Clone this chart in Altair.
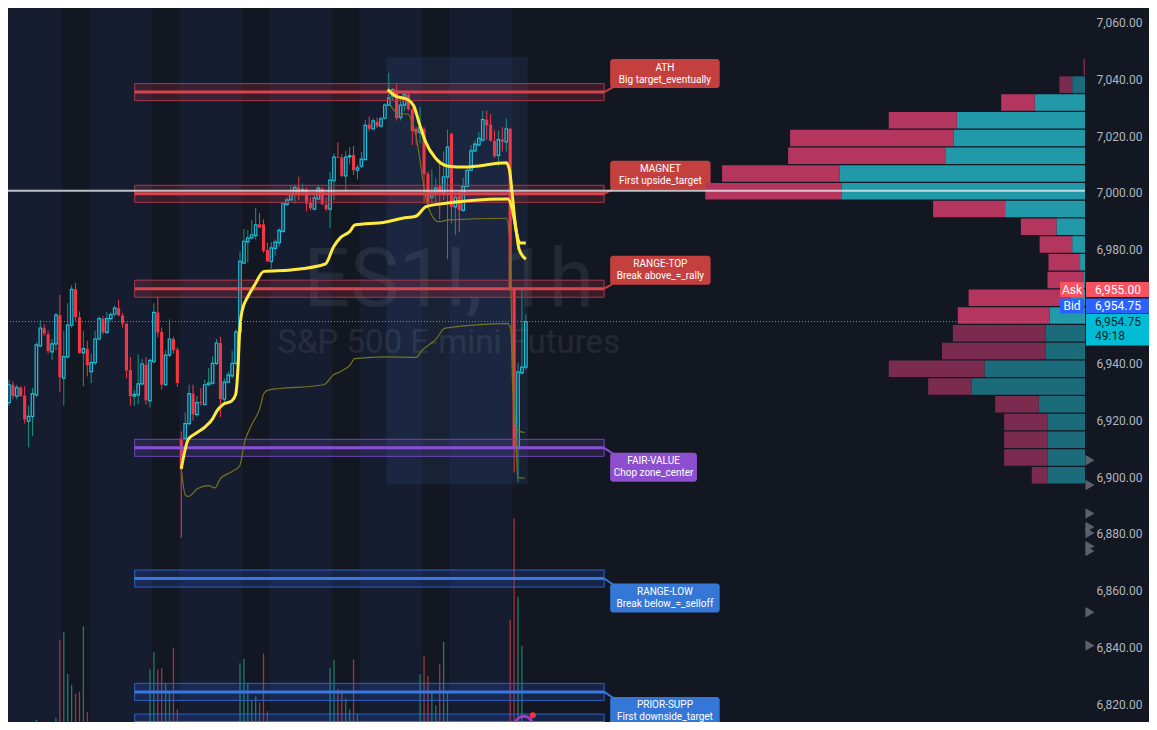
import altair as alt
import numpy as np
import pandas as pd

# ---------------- data ----------------
opens = [6926.2, 6932.5, 6928.5, 6931.5, 6928.7, 6919.7, 6921.4, 6928.9, 6946.2, 6952.4,
         6950.3, 6944.1, 6946.9, 6957.0, 6934.8, 6942.3, 6953.5, 6966.1, 6956.3, 6943.7,
         6945.2, 6937.1, 6940.3, 6948.6, 6955.8, 6950.9, 6955.8, 6957.4, 6959.5, 6956.9,
         6954.0, 6937.7, 6928.5, 6928.9, 6932.8, 6939.6, 6926.8, 6940.6, 6958.0, 6951.1,
         6932.5, 6942.9, 6948.6, 6944.9, 6913.6, 6913.6, 6918.8, 6929.4, 6922.0, 6926.4,
         6925.6, 6932.5, 6933.1, 6940.0, 6947.2, 6927.4, 6933.4, 6935.6, 6940.0, 6951.1,
         6975.3, 6982.8, 6984.2, 6985.0, 6989.0, 6989.0, 6979.9, 6975.9, 6980.5, 6982.5,
         6986.5, 6996.0, 6997.6, 6999.7, 7002.0, 7000.8, 7001.1, 6996.5, 6994.3, 6997.9,
         7001.5, 6996.0, 6994.3, 7004.3, 7012.6, 7012.5, 7006.0, 7012.7, 7013.4, 7008.0,
         7009.4, 7011.7, 7024.1, 7022.6, 7025.0, 7023.5, 7026.3, 7030.9, 7034.1, 7036.1,
         7026.6, 7030.9, 7034.6, 7029.5, 7022.6, 7021.2, 7022.6, 7006.8, 6998.5, 6999.9,
         7002.5, 7000.2, 7005.6, 7020.9, 6995.1, 6999.1, 6993.9, 7002.3, 7008.0, 7014.8,
         7016.9, 7018.6, 7025.8, 7024.1, 7018.3, 7013.2, 7018.8, 7018.0, 7022.6, 6965.9,
         6910.4, 6936.7, 6938.7]
highs = [6934.2, 6933.7, 6932.5, 6932.0, 6932.0, 6925.1, 6931.4, 6947.4, 6955.2, 6953.8,
         6951.5, 6948.6, 6957.8, 6964.1, 6951.5, 6961.2, 6967.5, 6968.3, 6958.3, 6951.5,
         6948.0, 6943.4, 6951.5, 6956.6, 6956.6, 6958.0, 6958.0, 6960.3, 6962.4, 6957.8,
         6954.3, 6942.3, 6930.8, 6943.2, 6941.7, 6942.3, 6941.7, 6961.2, 6963.5, 6952.6,
         6944.6, 6955.5, 6949.4, 6945.7, 6916.1, 6922.8, 6932.5, 6932.5, 6928.5, 6931.4,
         6934.2, 6938.3, 6942.5, 6948.6, 6949.4, 6934.8, 6937.1, 6944.6, 6952.0, 6979.4,
         6987.3, 6987.0, 6990.5, 6994.8, 6993.0, 6990.7, 6982.5, 6982.7, 6983.6, 6987.6,
         6996.8, 6998.5, 7002.8, 7002.9, 7005.7, 7003.3, 7002.0, 6998.5, 6999.9, 7002.8,
         7002.0, 6998.5, 7007.3, 7014.0, 7017.8, 7013.7, 7014.8, 7016.1, 7016.5, 7010.0,
         7014.4, 7025.8, 7026.9, 7026.3, 7026.6, 7026.9, 7031.6, 7042.3, 7036.9, 7038.1,
         7034.1, 7035.2, 7035.2, 7030.1, 7023.2, 7030.3, 7023.2, 7007.7, 7008.3, 7005.2,
         7011.7, 7014.6, 7022.3, 7021.2, 7000.2, 7000.8, 7005.4, 7008.5, 7016.9, 7018.6,
         7021.5, 7028.9, 7028.9, 7027.8, 7022.0, 7022.0, 7023.2, 7026.3, 7023.0, 6966.2,
         6940.1, 6966.9, 6957.3]
lows = [6925.1, 6927.4, 6927.4, 6928.2, 6918.8, 6910.5, 6914.4, 6928.2, 6945.7, 6949.7,
        6943.4, 6941.1, 6944.6, 6929.9, 6925.1, 6941.7, 6952.6, 6954.9, 6943.4, 6932.0,
        6935.4, 6933.1, 6939.4, 6948.0, 6950.3, 6950.3, 6954.9, 6956.6, 6956.6, 6952.6,
        6934.8, 6925.1, 6925.1, 6925.6, 6932.2, 6925.6, 6924.5, 6940.0, 6949.2, 6930.8,
        6932.0, 6942.3, 6943.4, 6931.7, 6878.6, 6913.0, 6918.2, 6919.9, 6921.1, 6925.1,
        6925.1, 6932.0, 6932.5, 6939.4, 6921.1, 6926.2, 6933.1, 6934.8, 6939.4, 6950.9,
        6975.3, 6975.6, 6983.6, 6983.6, 6987.6, 6979.0, 6975.6, 6973.3, 6977.9, 6981.1,
        6985.9, 6995.4, 6997.4, 6996.2, 6997.4, 6999.1, 6993.6, 6993.9, 6993.9, 6997.4,
        6995.6, 6993.6, 6987.6, 6997.4, 7012.3, 7005.6, 7000.8, 7010.0, 7006.3, 7004.8,
        7008.8, 7011.5, 7021.7, 7022.0, 7022.8, 7022.9, 7025.8, 7030.6, 7032.4, 7025.5,
        7025.5, 7028.9, 7028.9, 7016.9, 7016.9, 7017.4, 6996.2, 6995.1, 6995.1, 6996.2,
        6990.7, 6997.4, 6976.7, 6989.3, 6985.3, 6986.1, 6993.4, 7002.0, 7007.7, 7014.4,
        7016.3, 7018.0, 7018.6, 7018.0, 7012.3, 7009.4, 7014.6, 7014.6, 6965.5, 6901.6,
        6898.1, 6936.0, 6937.7]
closes = [6932.5, 6928.5, 6931.5, 6928.5, 6920.3, 6921.4, 6929.4, 6946.5, 6952.4, 6950.5,
          6944.3, 6946.9, 6957.0, 6935.1, 6942.4, 6953.5, 6966.1, 6956.3, 6943.7, 6945.2,
          6939.4, 6940.3, 6948.6, 6955.8, 6950.9, 6955.8, 6957.2, 6959.5, 6956.9, 6954.0,
          6937.5, 6928.5, 6929.1, 6932.8, 6939.8, 6927.0, 6941.1, 6958.0, 6950.9, 6932.5,
          6942.9, 6948.6, 6944.6, 6933.1, 6902.7, 6918.8, 6929.4, 6922.0, 6926.2, 6926.0,
          6932.5, 6933.1, 6940.0, 6947.2, 6927.4, 6933.4, 6936.0, 6940.0, 6951.1, 6975.9,
          6983.0, 6984.2, 6985.3, 6988.8, 6987.8, 6979.6, 6975.9, 6980.7, 6982.7, 6986.8,
          6996.2, 6997.6, 6999.9, 7002.0, 6999.7, 7001.0, 6996.2, 6994.6, 6998.3, 7001.7,
          6996.0, 6994.3, 7004.5, 7012.6, 7012.4, 7006.0, 7012.6, 7013.1, 7008.0, 7008.8,
          7011.9, 7023.8, 7022.6, 7025.4, 7023.5, 7026.1, 7030.9, 7033.5, 7036.4, 7026.3,
          7030.9, 7034.6, 7029.5, 7021.7, 7021.2, 7023.2, 7006.5, 6996.2, 7000.0, 7001.7,
          7000.2, 7005.7, 7016.1, 6995.1, 6998.5, 6993.9, 7002.3, 7008.0, 7014.8, 7017.2,
          7019.2, 7025.8, 7023.8, 7018.4, 7012.9, 7018.8, 7018.0, 7022.6, 6965.9, 6910.2,
          6937.0, 6938.7, 6954.75]
volumes = [18, 15, 14, 16, 22, 20, 24, 32, 26, 18, 20, 22, 34, 114, 122, 79, 68, 59, 61, 128,
           40, 26, 22, 20, 18, 16, 15, 14, 16, 18, 24, 28, 22, 20, 24, 26, 84, 101, 84, 85,
           70, 61, 106, 43, 28, 26, 24, 22, 20, 18, 20, 18, 22, 24, 28, 20, 18, 22, 26, 90,
           95, 70, 52, 56, 50, 100, 41, 26, 22, 20, 18, 16, 15, 16, 14, 18, 20, 22, 20, 18,
           24, 26, 85, 94, 64, 63, 54, 43, 94, 39, 26, 22, 20, 18, 16, 18, 20, 28, 22, 26,
           20, 18, 22, 24, 28, 79, 98, 77, 61, 47, 89, 112, 61, 28, 24, 22, 20, 18, 16, 15,
           14, 16, 18, 20, 22, 18, 20, 26, 134, 238, 158, 108, 12]

# anchored VWAPs (thick) and their lower bands (thin): bar index / price
vwap1_bar = [44.0, 45.8, 47.6, 50.1, 52.0, 53.1, 54.7, 56.9, 57.9, 58.5, 58.9, 59.5, 61.0, 62.7,
             65.1, 72.0, 80.8, 82.9, 84.6, 87.1, 88.3, 95.9, 100.5, 103.9, 106.4, 108.9, 127.4,
             128.6, 129.5, 130.3, 132.0]
vwap1_val = [6902.9, 6913.3, 6915.3, 6917.7, 6920.5, 6923.3, 6925.6, 6926.8, 6929.1, 6938.8,
             6950.9, 6958.3, 6963.5, 6967.5, 6972.4, 6972.9, 6975.0, 6981.1, 6984.2, 6986.5,
             6988.7, 6989.7, 6991.1, 6991.8, 6995.1, 6995.9, 6997.9, 6993.9, 6987.0, 6980.1,
             6976.7]
vwap2_bar = [96.7, 98.8, 101.8, 103.4, 104.7, 106.4, 108.9, 112.3, 116.4, 127.0, 127.8, 128.6,
             129.5, 130.7, 132.0]
vwap2_val = [7036.4, 7034.1, 7032.9, 7030.6, 7024.9, 7018.0, 7012.3, 7009.4, 7009.1, 7010.6,
             7008.3, 6998.5, 6987.0, 6982.4, 6982.4]
band1_bar = [44.0, 45.1, 45.9, 48.0, 51.0, 52.6, 53.9, 56.9, 58.9, 60.2, 61.9, 64.0, 65.1, 66.1,
             80.4, 82.9, 84.6, 87.1, 88.3, 96.3, 103.9, 105.5, 108.9, 111.4, 127.4, 128.2,
             128.6, 129.5, 130.7, 131.7]
band1_val = [6902.7, 6893.5, 6893.2, 6895.8, 6897.0, 6896.2, 6899.3, 6901.9, 6903.9, 6912.5,
             6918.2, 6923.9, 6929.4, 6930.6, 6932.5, 6936.0, 6937.1, 6939.4, 6941.7, 6942.3,
             6942.1, 6944.6, 6948.3, 6952.4, 6954.0, 6951.5, 6933.2, 6917.1, 6915.9, 6915.7]
band2_bar = [97.2, 99.7, 101.8, 103.9, 106.8, 109.7, 112.3, 127.0, 127.8, 128.6, 129.5, 129.9, 131.7]
band2_val = [7031.2, 7027.8, 7027.8, 7020.3, 6996.2, 6989.9, 6990.5, 6991.1, 6984.8, 6941.1,
             6913.6, 6899.8, 6899.6]

# key levels
level_names = ["ATH", "MAGNET", "RANGE-TOP", "FAIR-VALUE", "RANGE-LOW", "PRIOR-SUPP", ""]
level_notes = ["Big target_eventually", "First upside_target", "Break above_=_rally",
               "Chop zone_center", "Break below_=_selloff", "First downside_target", ""]
level_prices = [7035.5, 6999.7, 6966.3, 6910.3, 6864.3, 6824.4, 6813.6]
level_kinds = ["res", "res", "res", "fair", "sup", "sup", "sup"]
zone_half = 3.0
zone_start_bar = 32.1
zone_end_bar = 152.0

# volume profile (6.25 pt rows)
profile_low = [7041.25, 7035, 7028.75, 7022.5, 7016.25, 7010, 7003.75, 6997.5, 6991.25, 6985,
               6978.75, 6972.5, 6966.25, 6960, 6953.75, 6947.5, 6941.25, 6935, 6928.75, 6922.5,
               6916.25, 6910, 6903.75, 6897.5]
profile_buy = [0, 13, 51, 130, 133, 141, 249, 247, 81, 29, 13, 5, 1, 15, 36, 40, 40, 102, 115,
               47, 38, 38, 38, 38]
profile_sell = [1.5, 13, 34, 69, 166, 160, 119, 138, 73, 36, 33, 32, 37, 103, 93, 94, 105, 97,
                44, 44, 44, 44, 44, 16]
profile_in_va = [False, False, True, True, True, True, True, True, True, True, True, True, True,
                 True, True, False, False, False, False, False, False, False, False, False]
profile_row = 6.25

price_ticks = [6820, 6840, 6860, 6880, 6900, 6920, 6940, 6960, 6980, 7000, 7020, 7040, 7060]
session_start = [-0.25, 20.5, 43.5, 66.5, 89.5, 112.5]
session_end = [13.5, 36.5, 59.5, 82.5, 105.5, 128.5]
range_box_bars = [96.5, 132.5]
range_box_prices = [6897.4, 7047.8]
alert_prices = [6905.9, 6897.2, 6887.2, 6882.4, 6880.3, 6875.7, 6874.0, 6852.4, 6840.7]
white_line_price = 7000.8
ask_price = 6955.00
bid_price = 6954.75
countdown = "49:18"
symbol = "ES1!, 1h"
description = "S&P 500 E-mini Futures"
watermark_bar = 112.3
watermark_prices = [6960.1, 6943.6]
alert_icon_bar = [131.5, 133.8]
alert_icon_price = [6812.8, 6816.2]

# ---------------- layout / style ----------------
W, H = 1077, 714
AXW = 64
X_DOM = [-0.25, 274.8]
Y_DOM = [6813.8, 7065.1]
ppb = W / (X_DOM[1] - X_DOM[0])
ppp = H / (Y_DOM[1] - Y_DOM[0])

BG = "#131722"
NAVY = "#161d31"
UP_BODY = "#22bfdc"
UP_WICK = "#12957d"
DOWN = "#f23645"
FONT = "Roboto"

xs = alt.Scale(domain=X_DOM, nice=False, zero=False)
ys = alt.Scale(domain=Y_DOM, nice=False, zero=False)
yax = alt.Axis(orient="right", values=price_ticks, format=",.2f", labelColor="#b2b5be",
               labelFont=FONT, labelFontSize=12, labelPadding=11, domain=False, ticks=False,
               grid=False, title=None)


def X(f):
    return alt.X(f, type="quantitative", scale=xs, axis=None)


def Y(f, ax=None):
    return alt.Y(f, type="quantitative", scale=ys, axis=ax)


def YA(f):
    return Y(f, yax)


# ---------------- tables ----------------
bars = pd.DataFrame({"i": np.arange(len(opens)), "o": opens, "h": highs, "l": lows,
                     "c": closes, "v": volumes})
bars["up"] = bars["c"] >= bars["o"]
bars["top"] = bars[["o", "c"]].max(axis=1)
bars["bot"] = bars[["o", "c"]].min(axis=1)
min_body = 1.0 / ppp
bars["btop"] = np.maximum(bars["top"], bars["bot"] + min_body)
bars["x0"] = np.where(bars["up"], bars["i"] - 0.32, bars["i"] - 0.4)
bars["x1"] = np.where(bars["up"], bars["i"] + 0.32, bars["i"] + 0.4)
bars["wick"] = np.where(bars["up"], UP_WICK, DOWN)
bars["vcol"] = np.where(bars["up"], "#1d7a6e", "#a0363f")

sess = pd.DataFrame({"s": session_start, "e": session_end})
rbox = pd.DataFrame({"x0": [range_box_bars[0]], "x1": [range_box_bars[1]],
                     "y0": [range_box_prices[0]], "y1": [range_box_prices[1]]})

FILL = {"res": "#f23645", "fair": "#7e57c2", "sup": "#2962ff"}
EDGE = {"res": "#a8394a", "fair": "#6d46b8", "sup": "#2f62bd"}
LINE = {"res": "#d9434d", "fair": "#8a50dc", "sup": "#3a78e0"}
LAB = {"res": "#c4403f", "fair": "#8d4fd0", "sup": "#3577d6"}

lv = pd.DataFrame({"name": level_names, "desc": level_notes, "c": level_prices, "kind": level_kinds})
lv["lo"] = lv["c"] - zone_half
lv["hi"] = lv["c"] + zone_half
lv["x0"] = zone_start_bar
lv["x1"] = zone_end_bar
lv["fill"] = lv["kind"].map(FILL)
lv["edge"] = lv["kind"].map(EDGE)
lv["line"] = lv["kind"].map(LINE)
lv["lab"] = lv["kind"].map(LAB)

lab = lv[lv["name"] != ""].copy()
above = (lab["kind"] == "res").to_numpy()
lab["lx0"] = zone_end_bar + 6 / ppb
lab["lw"] = (14 + 4.55 * lab["desc"].str.len()) / ppb
lab["lx1"] = lab["lx0"] + lab["lw"]
lab["lxc"] = lab["lx0"] + lab["lw"] / 2
lab["ytop"] = np.where(above, lab["c"] + 33 / ppp, lab["c"] - 5 / ppp)
lab["ybot"] = lab["ytop"] - 29 / ppp
lab["yname"] = lab["ytop"] - 8.5 / ppp
lab["ydesc"] = lab["ytop"] - 20.5 / ppp
lab["tx"] = lab["lx0"] + 3 / ppb
lab["ty"] = np.where(above, lab["ybot"] + 1 / ppp, lab["ytop"] - 1 / ppp)

thick = pd.concat([
    pd.DataFrame({"b": vwap1_bar, "p": vwap1_val, "s": "v1"}),
    pd.DataFrame({"b": vwap2_bar, "p": vwap2_val, "s": "v2"}),
])
thin = pd.concat([
    pd.DataFrame({"b": band1_bar, "p": band1_val, "s": "b1"}),
    pd.DataFrame({"b": band2_bar, "p": band2_val, "s": "b2"}),
])

prof = pd.DataFrame({"lo": profile_low, "buy": profile_buy, "sell": profile_sell, "va": profile_in_va})
prof["y0"] = prof["lo"] + 0.22
prof["y1"] = prof["lo"] + profile_row - 0.22
prof["tot"] = prof["buy"] + prof["sell"]
prof["bcol"] = np.where(prof["va"], "#2299a8", "#1c6b7a")
prof["scol"] = np.where(prof["va"], "#b4365f", "#7b2c4e")

last = closes[-1]
badges = pd.DataFrame({
    "name": ["Ask", "Bid"],
    "ptxt": [f"{ask_price:,.2f}", f"{bid_price:,.2f}"],
    "yc": [last + 32 / ppp, last + 15.5 / ppp],
    "col": ["#f7525f", "#2962ff"],
})
badges["y0"] = badges["yc"] - 7.5 / ppp
badges["y1"] = badges["yc"] + 7.5 / ppp
cur = pd.DataFrame({"y0": [last + 7.5 / ppp], "y1": [last - 24 / ppp], "p": [last],
                    "t1": [f"{last:,.2f}"], "t2": [countdown], "y2": [last - 14 / ppp]})

# ---------------- layers ----------------
sessions = alt.Chart(sess).mark_rect(color=NAVY).encode(
    x=X("s"), x2="e", y=alt.value(0), y2=alt.value(H))
box_l = alt.Chart(rbox).mark_rect(color="#3d6bb0", opacity=0.13).encode(
    x=X("x0"), x2="x1", y=Y("y0"), y2="y1")
g0 = alt.layer(sessions, box_l)

vol = alt.Chart(bars).transform_filter("datum.v > 30").mark_rule(strokeWidth=1.3).encode(
    x=X("i"),
    y=alt.Y("v:Q", scale=alt.Scale(domain=[30, 760], nice=False, zero=False), axis=None),
    y2=alt.datum(30),
    color=alt.Color("vcol:N", scale=None))
g2 = alt.layer(vol)

wm = pd.DataFrame({"b": [watermark_bar, watermark_bar], "p": watermark_prices,
                   "t": [symbol, description], "fs": [82, 33]})
wm1 = alt.Chart(wm).transform_filter("datum.fs > 50").mark_text(
    font=FONT, fontSize=82, color="#ffffff", opacity=0.07, align="center",
    baseline="alphabetic").encode(x=X("b"), y=YA("p"), text="t:N")
wm2 = alt.Chart(wm).transform_filter("datum.fs < 50").mark_text(
    font=FONT, fontSize=33, color="#ffffff", opacity=0.07, align="center",
    baseline="alphabetic").encode(x=X("b"), y=YA("p"), text="t:N")

wick_hi = alt.Chart(bars).mark_rule(strokeWidth=1).encode(
    x=X("i"), y=YA("h"), y2="btop", color=alt.Color("wick:N", scale=None))
wick_lo = alt.Chart(bars).mark_rule(strokeWidth=1).encode(
    x=X("i"), y=YA("bot"), y2="l", color=alt.Color("wick:N", scale=None))
body_dn = alt.Chart(bars).transform_filter("!datum.up").mark_rect(color=DOWN).encode(
    x=X("x0"), x2="x1", y=YA("bot"), y2="btop")
body_up = alt.Chart(bars).transform_filter("datum.up").mark_rect(
    fillOpacity=0, stroke=UP_BODY, strokeWidth=1.2).encode(
    x=X("x0"), x2="x1", y=YA("bot"), y2="btop")

zone_fill = alt.Chart(lv).mark_rect(fillOpacity=0.17, strokeWidth=1).encode(
    x=X("x0"), x2="x1", y=YA("lo"), y2="hi",
    fill=alt.Fill("fill:N", scale=None), stroke=alt.Stroke("edge:N", scale=None))
zone_line = alt.Chart(lv).mark_rule(strokeWidth=3).encode(
    x=X("x0"), x2="x1", y=YA("c"), color=alt.Color("line:N", scale=None))
tails = alt.Chart(lab).mark_rule(strokeWidth=2).encode(
    x=X("x1"), x2="tx", y=YA("c"), y2="ty", color=alt.Color("lab:N", scale=None))
lbox = alt.Chart(lab).mark_rect(cornerRadius=3).encode(
    x=X("lx0"), x2="lx1", y=YA("ybot"), y2="ytop", color=alt.Color("lab:N", scale=None))
lname = alt.Chart(lab).mark_text(font=FONT, fontSize=10, color="#ffffff", align="center",
                                 baseline="middle").encode(x=X("lxc"), y=YA("yname"), text="name:N")
ldesc = alt.Chart(lab).mark_text(font=FONT, fontSize=10, color="#ffffff", align="center",
                                 baseline="middle").encode(x=X("lxc"), y=YA("ydesc"), text="desc:N")

thin_l = alt.Chart(thin).mark_line(color="#77741f", strokeWidth=1.2, interpolate="monotone").encode(
    x=X("b"), y=YA("p"), detail="s:N")
thick_l = alt.Chart(thick).mark_line(color="#ffeb3b", strokeWidth=3, interpolate="monotone").encode(
    x=X("b"), y=YA("p"), detail="s:N")

icon = pd.DataFrame({"b": alert_icon_bar, "p": alert_icon_price, "k": ["ring", "dot"]})
icon_ring = alt.Chart(icon).transform_filter("datum.k == 'ring'").mark_point(
    shape="circle", size=300, filled=False, stroke="#a23bc0", strokeWidth=3, opacity=1).encode(
    x=X("b"), y=YA("p"))
icon_dot = alt.Chart(icon).transform_filter("datum.k == 'dot'").mark_point(
    shape="circle", size=36, filled=True, color="#f23645", opacity=1).encode(x=X("b"), y=YA("p"))

g1 = alt.layer(wm1, wm2, wick_hi, wick_lo, body_dn, body_up, zone_fill, zone_line, tails,
               lbox, lname, ldesc, thin_l, thick_l, icon_ring, icon_dot)

pxs = alt.Scale(domain=[0, 1092], reverse=True, nice=False, zero=False)
prof_b = alt.Chart(prof).mark_rect().encode(
    x=alt.X("buy:Q", scale=pxs, axis=None), x2=alt.datum(0),
    y=Y("y0"), y2="y1", color=alt.Color("bcol:N", scale=None))
prof_s = alt.Chart(prof).mark_rect().encode(
    x=alt.X("tot:Q", scale=pxs, axis=None), x2="buy",
    y=Y("y0"), y2="y1", color=alt.Color("scol:N", scale=None))
g3 = alt.layer(prof_b, prof_s)

wl = alt.Chart(pd.DataFrame({"p": [white_line_price]})).mark_rule(
    color="#e6e8ee", strokeWidth=2, opacity=0.8).encode(y=Y("p"))
pl = alt.Chart(pd.DataFrame({"p": [last]})).mark_rule(
    color="#00bcd4", strokeWidth=1, strokeDash=[1, 2]).encode(y=Y("p"))
b_lab = alt.Chart(badges).mark_rect().encode(
    x=alt.value(W - 25), x2=alt.value(W - 1), y=Y("y0"), y2="y1",
    color=alt.Color("col:N", scale=None))
b_prc = alt.Chart(badges).mark_rect().encode(
    x=alt.value(W + 1), x2=alt.value(W + AXW), y=Y("y0"), y2="y1",
    color=alt.Color("col:N", scale=None))
b_t1 = alt.Chart(badges).mark_text(font=FONT, fontSize=12, color="#ffffff", align="center",
                                   baseline="middle").encode(
    x=alt.value(W - 13), y=Y("yc"), text="name:N")
b_t2 = alt.Chart(badges).mark_text(font=FONT, fontSize=12, color="#ffffff", align="center",
                                   baseline="middle").encode(
    x=alt.value(W + 33), y=Y("yc"), text="ptxt:N")
c_box = alt.Chart(cur).mark_rect(color="#00bcd4").encode(
    x=alt.value(W + 1), x2=alt.value(W + AXW), y=Y("y0"), y2="y1")
c_t1 = alt.Chart(cur).mark_text(font=FONT, fontSize=12, color="#0d1f24", align="center",
                                baseline="middle").encode(x=alt.value(W + 33), y=Y("p"), text="t1:N")
c_t2 = alt.Chart(cur).mark_text(font=FONT, fontSize=12, color="#0d1f24", align="left",
                                baseline="middle").encode(x=alt.value(W + 10), y=Y("y2"), text="t2:N")
tri = alt.Chart(pd.DataFrame({"p": alert_prices})).mark_point(
    shape="triangle-right", filled=True, size=110, color="#5d606b", opacity=1).encode(
    x=alt.value(W + 5), y=Y("p"))
g4 = alt.layer(wl, pl, b_lab, b_prc, b_t1, b_t2, c_box, c_t1, c_t2, tri)

chart = alt.layer(g0, g2, g1, g3, g4).resolve_scale(
    x="independent", y="independent"
).properties(
    width=W, height=H,
    autosize=alt.AutoSizeParams(type="none"),
    padding={"left": 0, "top": 0, "right": AXW, "bottom": 0},
).configure(background=BG).configure_view(stroke=None)

chart.save("out.html", embed_options={"renderer": "svg", "actions": False})
